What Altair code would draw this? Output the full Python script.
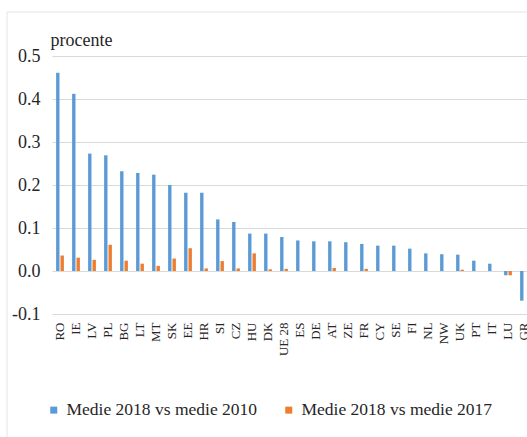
import altair as alt
import pandas as pd

# Country codes in chart order
countries = ["RO", "IE", "LV", "PL", "BG", "LT", "MT", "SK", "EE", "HR",
             "SI", "CZ", "HU", "DK", "UE 28", "ES", "DE", "AT", "ZE", "FR",
             "CY", "SE", "FI", "NL", "NW", "UK", "PT", "IT", "LU", "GR"]

# Change of the 2018 average versus the 2010 average (procente)
vs_2010 = [0.461, 0.412, 0.273, 0.269, 0.232, 0.228, 0.224, 0.200, 0.182, 0.182,
           0.120, 0.114, 0.087, 0.087, 0.079, 0.071, 0.069, 0.069, 0.067, 0.063,
           0.059, 0.059, 0.052, 0.041, 0.039, 0.038, 0.024, 0.017, -0.010, -0.069]

# Change of the 2018 average versus the 2017 average (procente)
vs_2017 = [0.036, 0.031, 0.026, 0.061, 0.024, 0.017, 0.012, 0.029, 0.053, 0.006,
           0.023, 0.006, 0.041, 0.004, 0.005, 0.0, 0.0, 0.007, 0.0, 0.005,
           0.0, 0.0, 0.0, 0.0, 0.0, 0.003, 0.0, 0.0, -0.010, 0.0]

series_names = ["Medie 2018 vs medie 2010", "Medie 2018 vs medie 2017"]
series_colors = ["#5B9BD5", "#ED7D31"]
y_ticks = [-0.1, 0.0, 0.1, 0.2, 0.3, 0.4, 0.5]

rows = []
for c, a, b in zip(countries, vs_2010, vs_2017):
    rows.append({"tara": c, "serie": series_names[0], "valoare": a})
    rows.append({"tara": c, "serie": series_names[1], "valoare": b})
df = pd.DataFrame(rows)

FONT = "Liberation Serif"
W, H = 474, 258

bars = alt.Chart(df).mark_bar(size=3.4).encode(
    x=alt.X("tara:N", sort=countries,
            scale=alt.Scale(range=[0, 480], paddingInner=0.45, paddingOuter=0.225),
            axis=alt.Axis(title=None, labelAngle=270, labelAlign="right",
                          labelBaseline="middle", labelPadding=8, ticks=False,
                          domain=False, grid=False, labelFont=FONT,
                          labelFontSize=13, labelColor="#262626")),
    xOffset=alt.XOffset("serie:N", sort=series_names,
                        scale=alt.Scale(paddingInner=0, paddingOuter=0)),
    y=alt.Y("valoare:Q",
            scale=alt.Scale(domain=[-0.1, 0.5], nice=False),
            axis=alt.Axis(values=y_ticks, title="procente", titleAngle=0,
                          titleAlign="left", titleBaseline="alphabetic",
                          titleX=-2, titleY=-11, titleFont=FONT,
                          titleFontSize=18, titleFontWeight="normal",
                          titleColor="#262626",
                          labelExpr="datum.value < 0 ? '-' + format(abs(datum.value), '.1f') : format(datum.value, '.1f')",
                          labelFont=FONT, labelFontSize=18, labelColor="#262626",
                          labelPadding=12, ticks=False, domain=False,
                          grid=True, gridColor="#d9d9d9", gridWidth=1)),
    color=alt.Color("serie:N", sort=series_names,
                    scale=alt.Scale(domain=series_names, range=series_colors),
                    legend=alt.Legend(title=None, orient="none", legendX=-7,
                                      legendY=345, direction="horizontal",
                                      symbolType="square", symbolSize=49,
                                      symbolStrokeWidth=0, labelFont=FONT,
                                      labelFontSize=17.5, labelColor="#262626",
                                      labelLimit=0, labelOffset=4,
                                      columnPadding=22, padding=0)),
)

# Thin outer frame lines
frame = alt.Chart(alt.Data(values=[{"k": 0}])).mark_rule(
    color="#e4e4e4", strokeWidth=1
).encode(x=alt.value(-45), x2=alt.value(W + 10), y=alt.value(-44))

frame_left = alt.Chart(alt.Data(values=[{"k": 0}])).mark_rule(
    color="#e4e4e4", strokeWidth=1
).encode(x=alt.value(-45), y=alt.value(-44), y2=alt.value(H + 130))

chart = alt.layer(frame, frame_left, bars).properties(
    width=W, height=H,
    autosize=alt.AutoSizeParams(type="none"),
    padding={"left": 52, "top": 56, "right": 1, "bottom": 123},
    background="white",
).configure_view(stroke=None)

chart.save("out.html", embed_options={"renderer": "svg", "actions": False})
